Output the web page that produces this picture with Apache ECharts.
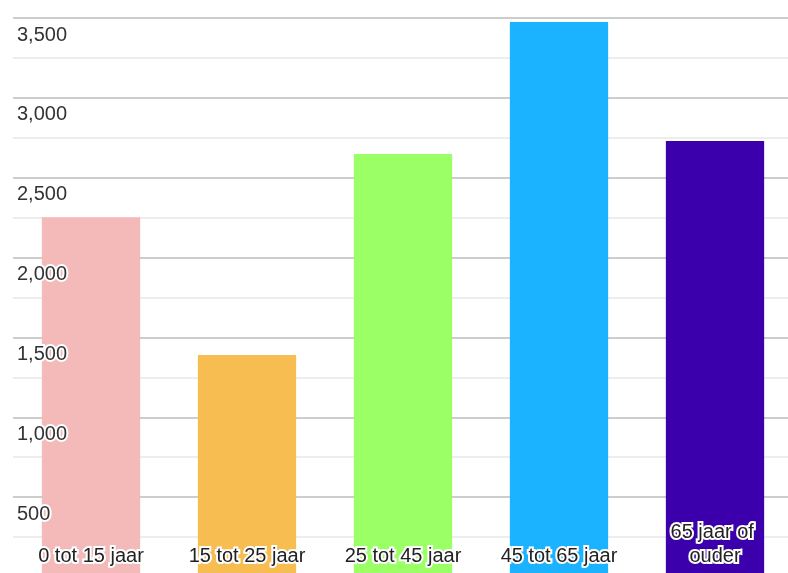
<!DOCTYPE html>
<html>
<head>
    <meta charset="UTF-8">
    <title>leeftijd</title>
    <script src="https://cdn.jsdelivr.net/npm/echarts@6/dist/echarts.min.js"></script>
    <style>
        *{margin:0;padding:0}
        html,body{width:100%;height:100%;background:#fff}
        #main{width:788px;height:573px}
    </style>
</head>
<body>
    <div id="main"></div>
    <script type="text/javascript">
        // leeftijdsgroepen en aantallen
        var categories = ['0 tot 15 jaar', '15 tot 25 jaar', '25 tot 45 jaar', '45 tot 65 jaar', '65 jaar of ouder'];
        var values = [2252, 1390, 2649, 3475, 2730];
        var barColors = ['#f4baba', '#f7bd50', '#9bff66', '#1bb2ff', '#3b00ab'];
        var yMin = 0, yMax = 3500, yStep = 500;

        var myChart = echarts.init(document.getElementById('main'));
        var font = "'Liberation Sans', Arial, Helvetica, sans-serif";

        var option = {
            animation: false,
            grid: {left: 13, right: -5, top: 18, bottom: -4, outerBoundsMode: 'none', containLabel: false},
            xAxis: {
                type: 'category',
                data: categories,
                z: 10,
                axisLine: {show: false},
                axisTick: {show: false},
                axisLabel: {
                    inside: true,
                    margin: 9,
                    interval: 0,
                    width: 125,
                    overflow: 'break',
                    align: 'center',
                    lineHeight: 24,
                    fontSize: 20,
                    fontFamily: font,
                    color: '#222',
                    textBorderColor: '#fff',
                    textBorderWidth: 4
                }
            },
            yAxis: [
                {
                    // alleen rasterlijnen, achter de staven
                    type: 'value',
                    min: yMin, max: yMax, interval: yStep,
                    axisLine: {show: false},
                    axisTick: {show: false},
                    axisLabel: {show: false},
                    splitLine: {lineStyle: {color: '#cdcdcd', width: 2}},
                    minorTick: {show: false, splitNumber: 2},
                    minorSplitLine: {show: true, lineStyle: {color: '#e8e8e8', width: 1.5}}
                },
                {
                    // labels boven de staven
                    type: 'value',
                    position: 'left',
                    min: yMin, max: yMax, interval: yStep,
                    z: 10,
                    axisLine: {show: false},
                    axisTick: {show: false},
                    splitLine: {show: false},
                    axisLabel: {
                        inside: true,
                        margin: 4,
                        verticalAlign: 'top',
                        padding: [7, 0, 0, 0],
                        fontSize: 20,
                        fontFamily: font,
                        color: '#333',
                        textBorderColor: '#fff',
                        textBorderWidth: 4,
                        formatter: function (v) { return v.toLocaleString('en-US'); }
                    }
                }
            ],
            series: [{
                type: 'bar',
                yAxisIndex: 0,
                barWidth: '63%',
                data: values.map(function (v, i) {
                    return {value: v, itemStyle: {color: barColors[i]}};
                })
            }]
        };
        myChart.setOption(option);
    </script>
</body>
</html>
